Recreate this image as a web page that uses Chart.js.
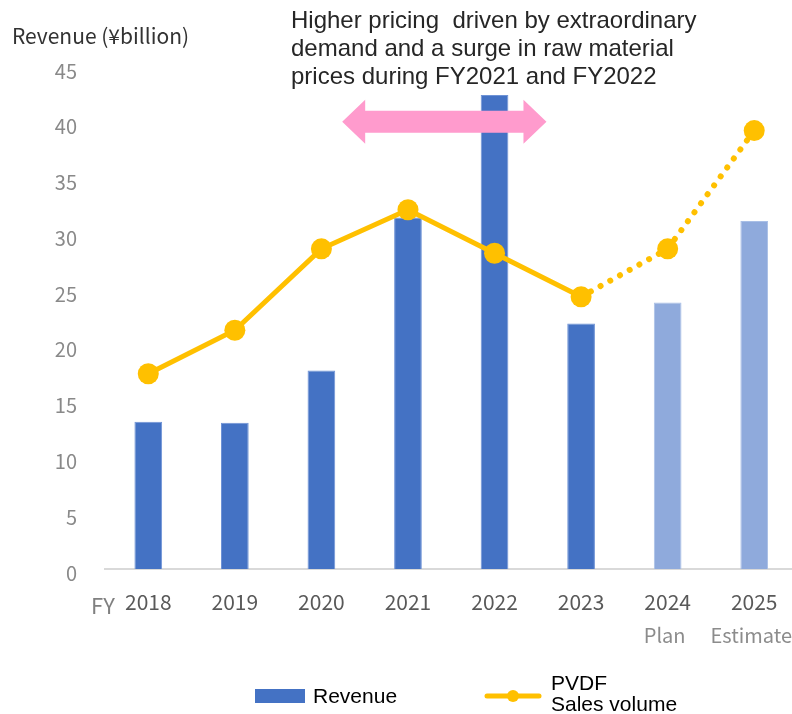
<!DOCTYPE html>
<html lang="en">
  <head>
    <meta charset="utf-8" />
    <title>PVDF revenue and sales volume</title>
    <style>
      * {
        margin: 0;
        padding: 0;
      }
      html,
      body {
        background: #fff;
      }
      /* plot runs past the window edge, right side gets cut like the source */
      .chartClip {
        width: 792px;
        height: 714px;
        overflow: hidden;
        position: relative;
      }
      #myChart {
        display: block;
        width: 808px !important;
        height: 714px !important;
        max-width: none !important;
      }
    </style>
  </head>
  <body>
    <div class="chartClip">
      <canvas id="myChart" width="808" height="714"></canvas>
    </div>

    <script src="https://cdn.jsdelivr.net/npm/chart.js"></script>

    <script>
      const years = ["2018", "2019", "2020", "2021", "2022", "2023", "2024", "2025"];
      const subLabels = ["", "", "", "", "", "", "Plan", "Estimate"];
      const revenue = [13.2, 13.1, 17.8, 31.5, 42.5, 22.0, 23.9, 31.2];
      const salesVolume = [17.5, 21.4, 28.7, 32.2, 28.3, 24.4, 28.7, 39.3];
      const yMax = 45;
      const yStep = 5;
      const noteLines = [
        "Higher pricing  driven by extraordinary",
        "demand and a surge in raw material",
        "prices during FY2021 and FY2022",
      ];

      const jpFont = "'Noto Sans CJK JP', 'Noto Sans', sans-serif";
      const arialFont = "'Liberation Sans', Arial, sans-serif";
      const lastActual = 5; // FY2023, after this it's plan / estimate

      const data = {
        labels: years,
        datasets: [
          {
            type: "line",
            label: "PVDF Sales volume",
            data: salesVolume,
            borderColor: "#FFC000",
            backgroundColor: "#FFC000",
            borderWidth: 5,
            borderCapStyle: "round",
            pointRadius: 10.5,
            pointBorderWidth: 0,
            pointHoverRadius: 10.5,
            order: 0,
            segment: {
              borderDash: (ctx) => (ctx.p0DataIndex >= lastActual ? [0.1, 11] : undefined),
              borderWidth: (ctx) => (ctx.p0DataIndex >= lastActual ? 6 : 5),
            },
          },
          {
            type: "bar",
            label: "Revenue",
            data: revenue,
            backgroundColor: years.map((y, i) => (subLabels[i] ? "#8FAADC" : "#4472C4")),
            borderColor: years.map((y, i) => (subLabels[i] ? "#A9BFE6" : "#6F93D6")),
            borderWidth: 1,
            barPercentage: 0.64,
            categoryPercentage: 0.5,
            order: 1,
          },
        ],
      };

      const extras = {
        id: "extras",
        afterDatasetsDraw(chart) {
          const {
            ctx,
            scales: { x, y },
          } = chart;
          // pink double arrow over FY2021-FY2022
          const step = x.getPixelForValue(1) - x.getPixelForValue(0);
          const x0 = x.getPixelForValue(2) + 0.24 * step;
          const x1 = x.getPixelForValue(4) + 0.6 * step;
          const yc = y.getPixelForValue(40.1);
          const head = 23;
          const hh = 22;
          const sh = 11;
          ctx.save();
          ctx.fillStyle = "#FF9BCD";
          ctx.beginPath();
          ctx.moveTo(x0, yc);
          ctx.lineTo(x0 + head, yc - hh);
          ctx.lineTo(x0 + head, yc - sh);
          ctx.lineTo(x1 - head, yc - sh);
          ctx.lineTo(x1 - head, yc - hh);
          ctx.lineTo(x1, yc);
          ctx.lineTo(x1 - head, yc + hh);
          ctx.lineTo(x1 - head, yc + sh);
          ctx.lineTo(x0 + head, yc + sh);
          ctx.lineTo(x0 + head, yc + hh);
          ctx.closePath();
          ctx.fill();
          ctx.restore();
        },
        afterDraw(chart) {
          const {
            ctx,
            scales: { x },
          } = chart;
          ctx.save();
          // axis title
          ctx.font = "21px " + jpFont;
          ctx.fillStyle = "#333333";
          ctx.textAlign = "left";
          ctx.textBaseline = "middle";
          ctx.fillText("Revenue (¥billion)", 12, 36);

          // note
          ctx.font = "24px " + arialFont;
          ctx.fillStyle = "#262626";
          noteLines.forEach((t, i) => ctx.fillText(t, 291, 21 + i * 28));

          // FY prefix and sub labels
          ctx.font = "22px " + jpFont;
          ctx.fillStyle = "#808080";
          ctx.fillText("FY", 91, 606);
          ctx.font = "20px " + jpFont;
          ctx.fillStyle = "#8C8C8C";
          ctx.textAlign = "center";
          subLabels.forEach((s, i) => {
            if (s) ctx.fillText(s, x.getPixelForValue(i) - 3, 635);
          });

          // legend
          ctx.textAlign = "left";
          ctx.fillStyle = "#4472C4";
          ctx.fillRect(255, 689, 50, 14);
          ctx.font = "21px " + arialFont;
          ctx.fillStyle = "#000";
          ctx.fillText("Revenue", 313, 697);
          ctx.strokeStyle = "#FFC000";
          ctx.lineWidth = 5;
          ctx.lineCap = "round";
          ctx.beginPath();
          ctx.moveTo(487, 696);
          ctx.lineTo(539, 696);
          ctx.stroke();
          ctx.fillStyle = "#FFC000";
          ctx.beginPath();
          ctx.arc(513, 696, 6, 0, Math.PI * 2);
          ctx.fill();
          ctx.fillStyle = "#000";
          ctx.fillText("PVDF", 551, 684);
          ctx.fillText("Sales volume", 551, 705);
          ctx.restore();
        },
      };

      const config = {
        data: data,
        options: {
          responsive: false,
          animation: false,
          layout: {
            // right side is set by the line points' overflow (~11px)
            padding: { top: 67, right: 0, left: 0, bottom: 0 },
          },
          plugins: {
            legend: { display: false },
            tooltip: { enabled: false },
          },
          scales: {
            x: {
              grid: { display: false, drawTicks: false },
              border: { display: true, color: "#D9D9D9", width: 2 },
              ticks: {
                color: "#595959",
                font: { size: 21, family: jpFont },
                padding: 20,
                maxRotation: 0,
              },
              afterFit(scale) {
                scale.height = 145;
              },
            },
            y: {
              min: 0,
              max: yMax,
              grid: { display: false, drawTicks: false },
              border: { display: false },
              ticks: {
                stepSize: yStep,
                color: "#898989",
                font: { size: 20, family: jpFont },
                padding: 28,
                labelOffset: 4,
              },
              afterFit(scale) {
                scale.width = 105;
              },
            },
          },
        },
        plugins: [extras],
      };

      const myChart = new Chart(document.getElementById("myChart"), config);
    </script>
  </body>
</html>
